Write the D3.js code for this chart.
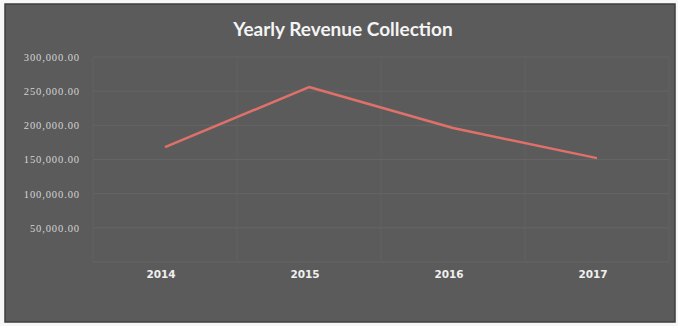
<!DOCTYPE html>
<html>
<head>
<meta charset="utf-8">
<script src="https://cdn.jsdelivr.net/npm/d3@7"></script>
<style>
  html, body { margin: 0; padding: 0; background: #f7f7f7; }
  svg { display: block; }
</style>
</head>
<body>
<svg id="chart" width="678" height="326"></svg>
<script>
// Yearly revenue figures
const years = ["2014", "2015", "2016", "2017"];
const revenue = [168000, 256000, 196000, 152000];
const yTicks = [50000, 100000, 150000, 200000, 250000, 300000];
const chartTitle = "Yearly Revenue Collection";

const svg = d3.select("#chart");

// Panel background
svg.append("rect")
  .attr("x", 5).attr("y", 4)
  .attr("width", 670).attr("height", 318)
  .attr("fill", "#5b5b5b")
  .attr("stroke", "#3e3e3e").attr("stroke-width", 1.5);

const plot = { left: 93, right: 669, top: 57, bottom: 262 };

const x = d3.scaleBand()
  .domain(years)
  .range([plot.left, plot.right]);

const y = d3.scaleLinear()
  .domain([0, 300000])
  .range([plot.bottom, plot.top]);

// Horizontal gridlines
svg.append("g")
  .selectAll("line")
  .data([0].concat(yTicks))
  .join("line")
  .attr("x1", plot.left).attr("x2", plot.right)
  .attr("y1", d => y(d)).attr("y2", d => y(d))
  .attr("stroke", "#656565").attr("stroke-width", 1);

// Vertical category dividers
const bounds = years.map(d => x(d)).concat([plot.right]);
svg.append("g")
  .selectAll("line")
  .data(bounds)
  .join("line")
  .attr("x1", d => d).attr("x2", d => d)
  .attr("y1", plot.top).attr("y2", plot.bottom)
  .attr("stroke", "#626262").attr("stroke-width", 1);

// Y axis labels
const yAxis = d3.axisLeft(y)
  .tickValues(yTicks)
  .tickSize(0)
  .tickPadding(0)
  .tickFormat(d3.format(",.2f"));
const yg = svg.append("g")
  .attr("transform", `translate(80,0)`)
  .call(yAxis);
yg.select(".domain").remove();
yg.selectAll("text")
  .attr("fill", "#d4d4d4")
  .attr("font-family", "Liberation Serif, serif")
  .attr("font-size", 10.5)
  .attr("letter-spacing", 0.9);

// X axis labels
const xAxis = d3.axisBottom(x).tickSize(0).tickPadding(0);
const xg = svg.append("g")
  .attr("transform", `translate(-4,271)`)
  .call(xAxis);
xg.select(".domain").remove();
xg.selectAll("text")
  .attr("fill", "#f0f0f0")
  .attr("font-family", "DejaVu Sans, sans-serif")
  .attr("font-weight", "bold")
  .attr("font-size", 10.5);

// Revenue line
const line = d3.line()
  .x((d, i) => x(years[i]) + x.bandwidth() / 2)
  .y(d => y(d));

svg.append("path")
  .datum(revenue)
  .attr("d", line)
  .attr("fill", "none")
  .attr("stroke", "#e0706a")
  .attr("stroke-width", 2.5)
  .attr("stroke-linejoin", "round");

// Title
svg.append("text")
  .attr("x", 343).attr("y", 36)
  .attr("text-anchor", "middle")
  .attr("fill", "#f4f4f4")
  .attr("font-family", "Lato, sans-serif")
  .attr("font-weight", "bold")
  .attr("font-size", 19)
  .text(chartTitle);
</script>
</body>
</html>
